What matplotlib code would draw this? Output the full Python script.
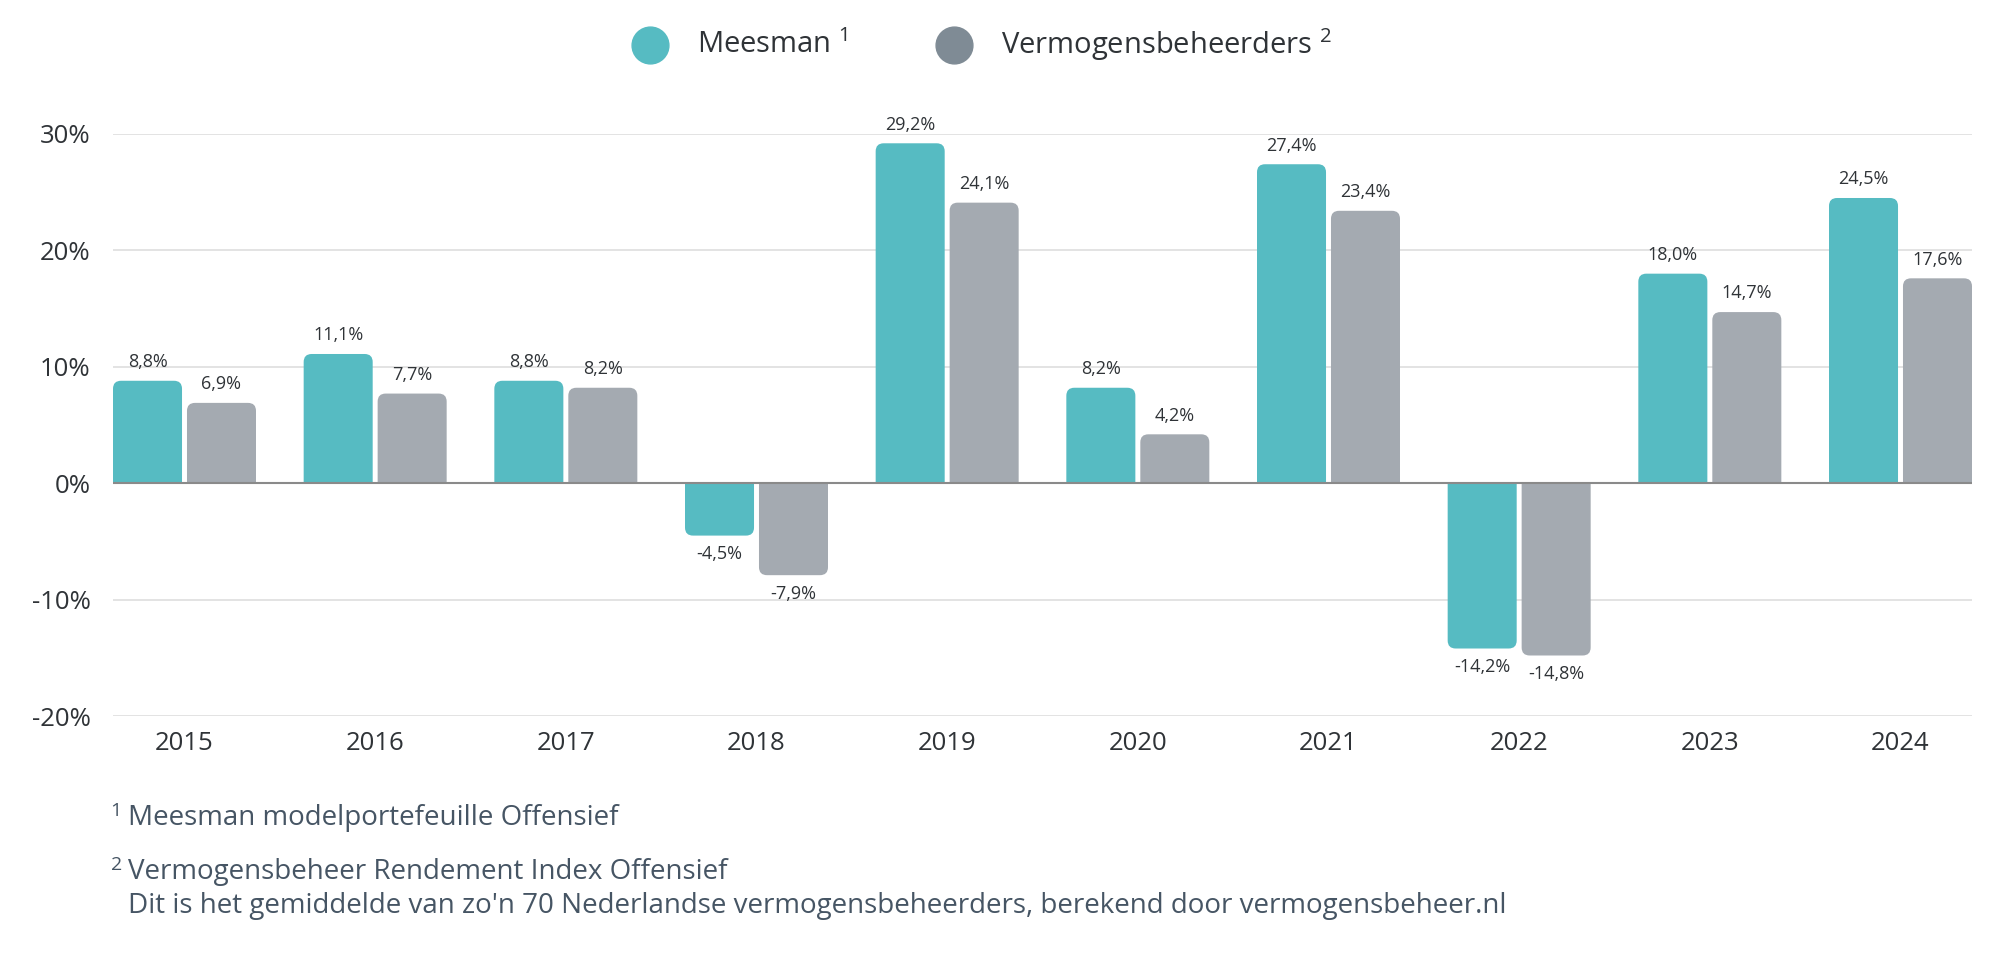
import matplotlib
matplotlib.use("Agg")
import matplotlib.pyplot as plt
from matplotlib.patches import FancyBboxPatch
from matplotlib.lines import Line2D
from matplotlib.ticker import FuncFormatter
from matplotlib.transforms import Bbox, TransformedBbox
import numpy as np

plt.rcParams['font.family'] = ['Open Sans', 'DejaVu Sans']
plt.rcParams['mathtext.fontset'] = 'custom'
plt.rcParams['mathtext.rm'] = 'Open Sans'
plt.rcParams['mathtext.default'] = 'regular'

years = ['2015', '2016', '2017', '2018', '2019', '2020', '2021', '2022', '2023', '2024']
meesman = [8.8, 11.1, 8.8, -4.5, 29.2, 8.2, 27.4, -14.2, 18.0, 24.5]
vermogensbeheerders = [6.9, 7.7, 8.2, -7.9, 24.1, 4.2, 23.4, -14.8, 14.7, 17.6]
yticks = [-20, -10, 0, 10, 20, 30]

teal = '#56BBC2'
grey = '#A4AAB1'
grey_legend = '#7F8B95'
text_col = '#2F3337'
note_col = '#465564'

fig = plt.figure(figsize=(20, 9.68), dpi=100)
ax = fig.add_axes([0.0565, 0.2603, 0.9295, 0.6013])

x = np.arange(len(years))
w = 0.362
gap = 0.026
ax.set_xlim(-w - gap / 2, len(years) - 1 + w + gap / 2)
ax.set_ylim(-20, 30)

b1 = ax.bar(x - w / 2 - gap / 2, meesman, w, color=teal, zorder=3, lw=0)
b2 = ax.bar(x + w / 2 + gap / 2, vermogensbeheerders, w, color=grey, zorder=3, lw=0)

# rounded bar ends: rounded box that runs past the baseline, clipped at the baseline
fig.canvas.draw()
p0 = ax.transData.transform((0, 0))
p1 = ax.transData.transform((1, 1))
px_x = p1[0] - p0[0]
px_y = p1[1] - p0[1]
r = 8 / px_x
ry = 8 / px_y
aspect = ry / r
for bars in (b1, b2):
    for rect in bars:
        bx, by = rect.get_x(), rect.get_y()
        bw, bh = rect.get_width(), rect.get_height()
        if bh >= 0:
            y0, y1 = by - 2 * ry, by + bh
            clip = Bbox([[bx - 1, by], [bx + bw + 1, by + bh + 5]])
        else:
            y0, y1 = by + bh, by + 2 * ry
            clip = Bbox([[bx - 1, by + bh - 5], [bx + bw + 1, by]])
        patch = FancyBboxPatch((bx, y0), bw, y1 - y0,
                               boxstyle=f"round,pad=0,rounding_size={r}",
                               mutation_aspect=aspect, lw=0,
                               fc=rect.get_facecolor(), ec='none', zorder=3)
        ax.add_patch(patch)
        patch.set_clip_box(TransformedBbox(clip, ax.transData))
        rect.set_visible(False)

# value labels
for bars, vals in ((b1, meesman), (b2, vermogensbeheerders)):
    for rect, v in zip(bars, vals):
        cx = rect.get_x() + rect.get_width() / 2
        lab = f"{v:.1f}%".replace('.', ',')
        if v >= 0:
            ax.annotate(lab, (cx, v), xytext=(0, 7), textcoords='offset points',
                        ha='center', va='bottom', fontsize=13, color=text_col)
        else:
            ax.annotate(lab, (cx, v), xytext=(0, -7), textcoords='offset points',
                        ha='center', va='top', fontsize=13, color=text_col)

ax.set_yticks(yticks)
ax.yaxis.set_major_formatter(FuncFormatter(lambda v, p: f"{v:.0f}%"))
ax.set_xticks(x)
ax.set_xticklabels(years)
ax.tick_params(axis='y', length=0, pad=16, labelsize=18.5, labelcolor=text_col)
ax.tick_params(axis='x', length=0, pad=11, labelsize=18.5, labelcolor=text_col)
ax.grid(axis='y', color='#E3E3E3', lw=1.4, zorder=0)
ax.axhline(0, color='#8A8A8A', lw=1.5, zorder=4)
for s in ax.spines.values():
    s.set_visible(False)

# legend
fig.add_artist(Line2D([650 / 2000], [1 - 45 / 968], marker='o', ms=26.5, color=teal,
                      ls='none', transform=fig.transFigure))
fig.text(697 / 2000, 1 - 45 / 968, 'Meesman $^{1}$', fontsize=21, color=text_col,
         va='center', ha='left')
fig.add_artist(Line2D([954 / 2000], [1 - 45 / 968], marker='o', ms=26.5, color=grey_legend,
                      ls='none', transform=fig.transFigure))
fig.text(1001 / 2000, 1 - 45 / 968, 'Vermogensbeheerders $^{2}$', fontsize=21, color=text_col,
         va='center', ha='left')

# footnotes
fs = 20
fig.text(110 / 2000, 1 - 818 / 968, '$^{1}$', fontsize=fs, color=note_col, va='center')
fig.text(128 / 2000, 1 - 818 / 968, 'Meesman modelportefeuille Offensief', fontsize=fs,
         color=note_col, va='center')
fig.text(110 / 2000, 1 - 872 / 968, '$^{2}$', fontsize=fs, color=note_col, va='center')
fig.text(128 / 2000, 1 - 872 / 968, 'Vermogensbeheer Rendement Index Offensief', fontsize=fs,
         color=note_col, va='center')
fig.text(128 / 2000, 1 - 906 / 968,
         "Dit is het gemiddelde van zo'n 70 Nederlandse vermogensbeheerders, berekend door vermogensbeheer.nl",
         fontsize=fs, color=note_col, va='center')

fig.savefig('out.png', dpi=100, facecolor='white')
